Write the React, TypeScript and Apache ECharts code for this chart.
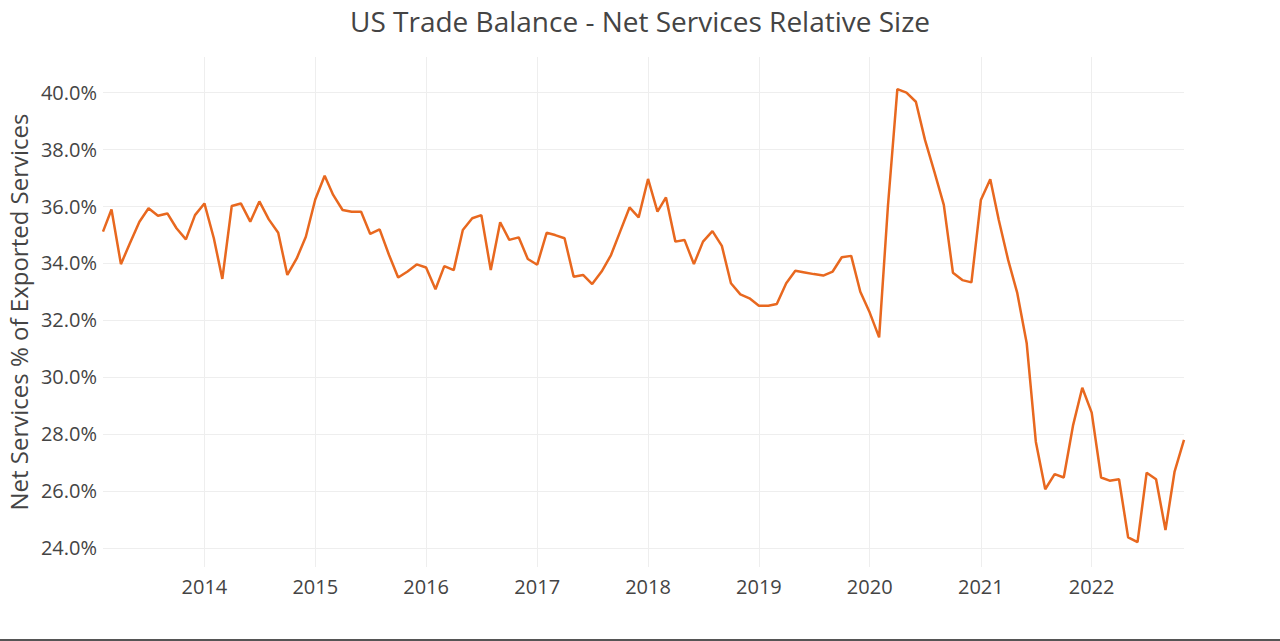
import React, { useEffect, useRef } from "react";
import * as echarts from "echarts";

const startYear = 2013;
const startMonth = 2; // February
const values: number[] = [
  35.10, 35.88, 33.96, 34.70, 35.45, 35.92, 35.66, 35.74, 35.22, 34.83, 35.68,
  36.09, 34.87, 33.44, 36.00, 36.09, 35.45, 36.16, 35.53, 35.06, 33.58, 34.16, 34.92,
  36.23, 37.06, 36.39, 35.86, 35.80, 35.80, 35.02, 35.18, 34.28, 33.49, 33.70, 33.95,
  33.84, 33.08, 33.89, 33.75, 35.16, 35.57, 35.68, 33.75, 35.43, 34.81, 34.90, 34.14,
  33.94, 35.06, 34.98, 34.87, 33.52, 33.58, 33.26, 33.70, 34.28, 35.10, 35.95, 35.60,
  36.95, 35.80, 36.30, 34.75, 34.81, 33.96, 34.75, 35.12, 34.60, 33.29, 32.90, 32.76,
  32.50, 32.50, 32.56, 33.29, 33.73, 33.67, 33.61, 33.56, 33.70, 34.20, 34.25, 32.99,
  32.26, 31.39, 36.00, 40.10, 39.98, 39.66, 38.32, 37.20, 36.04, 33.66, 33.40, 33.32,
  36.21, 36.94, 35.51, 34.10, 32.94, 31.18, 27.73, 26.06, 26.59, 26.47, 28.32, 29.62,
  28.75, 26.47, 26.36, 26.41, 24.37, 24.20, 26.64, 26.41, 24.63, 26.68, 27.79,
];
const yTicks: number[] = [24, 26, 28, 30, 32, 34, 36, 38, 40];
const xTickYears: number[] = [2014, 2015, 2016, 2017, 2018, 2019, 2020, 2021, 2022];

const titleText = "US Trade Balance - Net Services Relative Size";
const yAxisTitle = "Net Services % of Exported Services";

export default function App() {
  const ref = useRef<HTMLDivElement>(null);
  useEffect(() => {
    document.body.style.margin = "0";
    if (!ref.current) return;
    const chart = echarts.init(ref.current, undefined, { renderer: "svg" });
    const data = values.map((v, i) => [
      Date.UTC(startYear, startMonth - 1 + i, 1),
      v,
    ]);
    const xMin = data[0][0];
    const xMax = data[data.length - 1][0];
    const xTicks = xTickYears.map((y) => Date.UTC(y, 0, 1));
    const font = "'Open Sans', 'Noto Sans', sans-serif";
    chart.setOption({
      animation: false,
      backgroundColor: "#ffffff",
      title: {
        text: titleText,
        left: "center",
        top: 2,
        textStyle: {
          fontFamily: font,
          fontSize: 28,
          fontWeight: "normal",
          color: "#444444",
        },
      },
      grid: {
        left: 103,
        right: 96,
        top: 57,
        bottom: 74,
        containLabel: false,
        outerBoundsMode: "none",
      },
      xAxis: {
        type: "value",
        min: xMin,
        max: xMax,
        axisLine: { show: false },
        axisTick: { show: false, customValues: xTicks },
        axisLabel: {
          customValues: xTicks,
          formatter: (v: number) => String(new Date(v).getUTCFullYear()),
          color: "#444444",
          fontFamily: font,
          fontSize: 20,
          margin: 9,
        },
        splitLine: { show: true, lineStyle: { color: "#eeeeee", width: 1 } },
      },
      yAxis: {
        type: "value",
        min: 23.33,
        max: 41.23,
        name: yAxisTitle,
        nameLocation: "middle",
        nameGap: 70,
        nameTextStyle: { fontFamily: font, fontSize: 24, color: "#444444" },
        axisLine: { show: false },
        axisTick: { show: false, customValues: yTicks },
        axisLabel: {
          customValues: yTicks,
          formatter: (v: number) => v.toFixed(1) + "%",
          color: "#444444",
          fontFamily: font,
          fontSize: 20,
          margin: 6,
        },
        splitLine: { show: true, lineStyle: { color: "#eeeeee", width: 1 } },
      },
      series: [
        {
          type: "line",
          data,
          showSymbol: false,
          symbol: "none",
          lineStyle: { color: "#E8681F", width: 2.5 },
          itemStyle: { color: "#E8681F" },
        },
      ],
      graphic: [
        {
          type: "rect",
          left: 0,
          bottom: 0,
          shape: { width: 1280, height: 2 },
          style: { fill: "#555555" },
        },
      ],
    });
    return () => chart.dispose();
  }, []);
  return <div ref={ref} style={{ width: 1280, height: 641 }} />;
}
